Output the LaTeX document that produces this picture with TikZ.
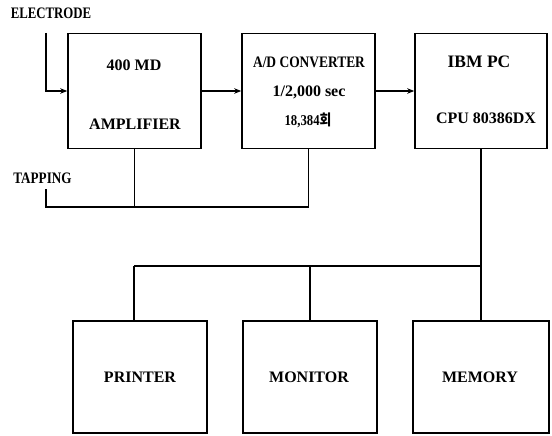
\documentclass[tikz,border=0pt]{standalone}
\usepackage{fontspec}
\setmainfont{Liberation Serif}
\newfontfamily\krfont{Noto Sans CJK KR}
\usetikzlibrary{arrows.meta}
\begin{document}
\begin{tikzpicture}[x=1pt,y=1pt,
  line width=1.5pt,
  blk/.style={draw,line width=1.6pt,minimum width=133pt,minimum height=115pt,inner sep=0pt},
  lbl/.style={font=\fontsize{16}{18}\selectfont\bfseries,inner sep=0pt},
  arr/.style={-{Stealth[length=7pt,width=5.5pt]}}]
\useasboundingbox (0,0) rectangle (552,-436);
% top row boxes
\node[blk] (b1) at (134.5,-91) {};
\node[blk] (b2) at (308.5,-91) {};
\node[blk,minimum width=132pt] (b3) at (481,-91) {};
% bottom row boxes
\node[blk,minimum width=134pt,minimum height=112pt] (pr) at (140,-377) {};
\node[blk,minimum width=134pt,minimum height=112pt] (mon) at (310,-377) {};
\node[blk,minimum width=136pt,minimum height=112pt] (mem) at (481,-377) {};
% labels
\node[lbl] (l1a) at (134,-65) {400 MD};
\node[lbl] (l1b) at (135,-124) {AMPLIFIER};
\node[lbl,xscale=0.84] (l2a) at (309,-62) {A/D CONVERTER};
\node[lbl] (l2b) at (309,-92) {1/2,000 sec};
\node[lbl,font=\fontsize{15}{18}\selectfont\bfseries,xscale=0.85] (l2c) at (308,-120) {18,384{\krfont 회}};
\node[lbl,font=\fontsize{17.5}{20}\selectfont\bfseries] (l3a) at (479,-62) {IBM PC};
\node[lbl] (l3b) at (486,-118) {CPU 80386DX};
\node[lbl] (lpr) at (140,-377) {PRINTER};
\node[lbl] (lmon) at (309,-377) {MONITOR};
\node[lbl] (lmem) at (480,-377) {MEMORY};
\node[lbl,xscale=0.8] (lel) at (51,-13) {ELECTRODE};
\node[lbl,xscale=0.82] (ltap) at (42.5,-178) {TAPPING};
% connectors
\coordinate (e0) at (46,-33);
\draw[arr] (e0) |- (b1.west);
\draw[arr] (b1.east) -- (b2.west);
\draw[arr] (b2.east) -- (b3.west);
\coordinate (t0) at (46,-189);
\coordinate (t1) at (46,-207);
\draw (t0) -- (t1) -| (b2.south);
\draw (b1.south) -- (b1.south |- t1);
\coordinate (bus1) at (134,-266);
\draw (b3.south) -- (mem.north);
\draw (bus1) -- (bus1 -| b3.south);
\draw (bus1) -- (bus1 |- pr.north);
\draw (mon.north) -- (mon.north |- bus1);
\end{tikzpicture}
\end{document}
